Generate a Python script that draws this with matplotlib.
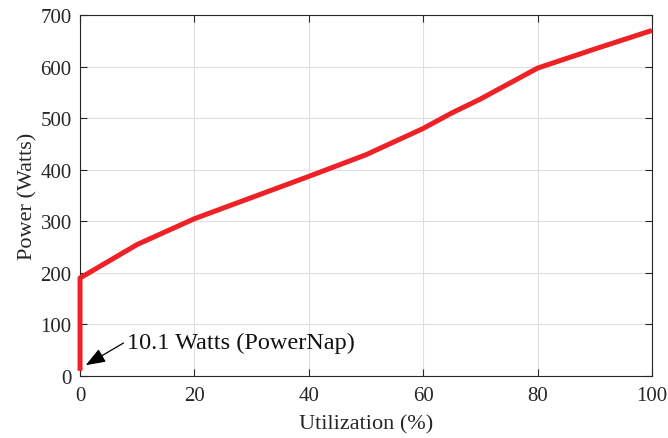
import matplotlib
matplotlib.use('Agg')
import matplotlib.pyplot as plt

# utilization (%) vs power (Watts)
util = [0, 0, 10, 20, 30, 40, 50, 60, 65, 70, 80, 90, 100]
power = [10.1, 190, 255, 305, 346, 387, 429, 480, 510, 537, 597, 634, 670]

xticks = [0, 20, 40, 60, 80, 100]
yticks = [0, 100, 200, 300, 400, 500, 600, 700]

plt.rcParams['font.family'] = ['Liberation Serif', 'DejaVu Serif']

fig = plt.figure(figsize=(6.68, 4.39), dpi=100)
ax = fig.add_axes([0.1198, 0.1412, 0.8562, 0.8224])

ax.plot(util, power, color='#ee2226', linewidth=3.6, solid_capstyle='butt',
        clip_on=False, zorder=3)

ax.set_xlim(0, 100)
ax.set_ylim(0, 700)
ax.set_xticks(xticks)
ax.set_yticks(yticks)
ax.grid(True, color='#dedede', linewidth=0.8)
ax.set_axisbelow(True)
ax.tick_params(direction='in', top=True, right=True, length=5, width=0.8,
               colors='#262626', labelsize=15, labelcolor='#262626')
ax.tick_params(axis='x', pad=7)
ax.tick_params(axis='y', pad=6)
for s in ax.spines.values():
    s.set_color('#262626')
    s.set_linewidth(0.8)

ax.set_xlabel('Utilization (%)', fontsize=16, color='#262626', labelpad=7)
ax.set_ylabel('Power (Watts)', fontsize=16, color='#262626', labelpad=2)

# arrow and label for the PowerNap point
ax.annotate('', xy=(1.0, 21), xytext=(7.6, 64),
            arrowprops=dict(arrowstyle='-|>,head_length=0.8,head_width=0.3',
                            color='black', lw=0.9, mutation_scale=15,
                            shrinkA=0, shrinkB=0))
ax.text(8.3, 66, '10.1 Watts (PowerNap)', fontsize=17.5, color='#111111',
        va='center', ha='left')

fig.savefig('out.png', dpi=100)
